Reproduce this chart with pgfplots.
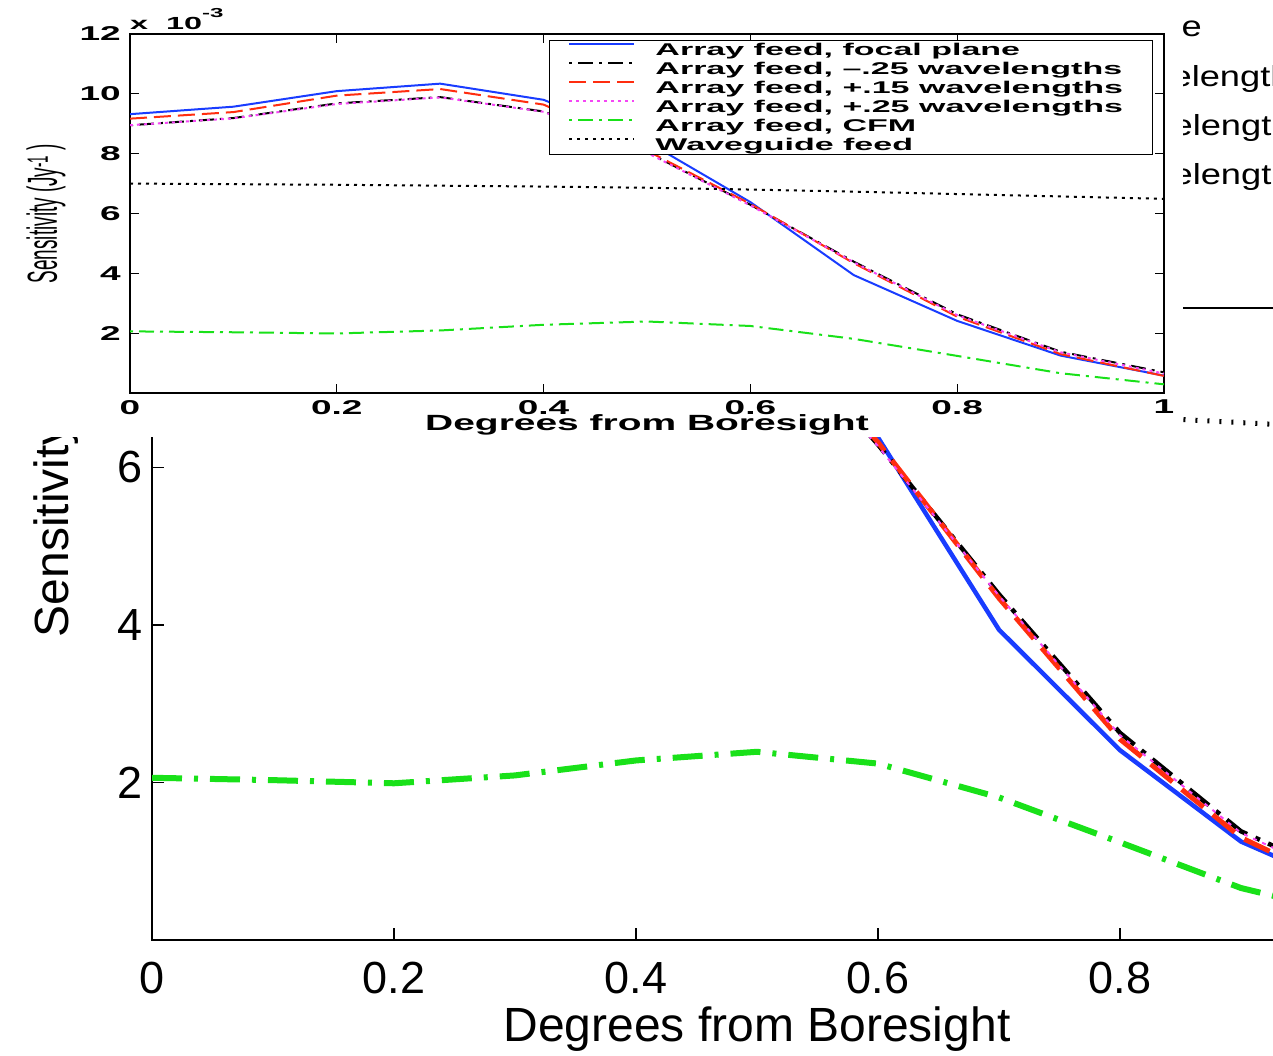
\documentclass[border=0pt]{standalone}
\usepackage{fontspec}
\usepackage{pgfplots}
\usepackage{pgfplotstable}
\pgfplotsset{compat=1.18}
\setmainfont{Liberation Sans}
% the small figure was stretched sideways, so its text is wide
\newfontfamily\tfont{Liberation Sans}[FakeStretch=1.85]
\newfontfamily\tlabfont{Liberation Sans}[FakeStretch=1.77]
\newfontfamily\lfont{Liberation Sans}[FakeStretch=2.0]
\newfontfamily\yfont{Liberation Sans}[FakeStretch=0.45]
\newfontfamily\bfontleg{Liberation Sans}[FakeStretch=1.25]
\newcommand\topticks{\fontsize{20}{20}\selectfont\tfont\bfseries}
\newcommand\toplab{\fontsize{22}{22}\selectfont\tlabfont\bfseries}
\newcommand\topleg{\fontsize{17}{17}\selectfont\lfont\bfseries}
\newcommand\topylab{\fontsize{42}{42}\selectfont\yfont}
\newcommand\expfont{\fontsize{17.5}{17.5}\selectfont\tfont\bfseries}
\newcommand\expsup{\fontsize{13}{13}\selectfont\tfont\bfseries}
\newcommand\botticks{\fontsize{45}{45}\selectfont}
\newcommand\botlab{\fontsize{48}{48}\selectfont}
\newcommand\botleg{\fontsize{29}{29}\selectfont\bfontleg}

\definecolor{mblue}{RGB}{25,60,255}
\definecolor{mred}{RGB}{255,45,15}
\definecolor{mmag}{RGB}{245,70,245}
\definecolor{mgreen}{RGB}{25,225,25}

% sensitivity in units of 1e-3 / Jy
\pgfplotstableread{
x    blue  black red   mag   green wg
0.0  9.32  8.95  9.17  8.95  2.06  7.00
0.1  9.57  9.19  9.39  9.18  2.03  6.98
0.2  10.09 9.68  9.94  9.66  1.99  6.96
0.3  10.34 9.89  10.16 9.88  2.09  6.93
0.4  9.80  9.41  9.64  9.40  2.28  6.90
0.5  8.40  8.05  8.10  8.03  2.39  6.86
0.6  6.38  6.29  6.32  6.27  2.24  6.80
0.7  3.94  4.39  4.34  4.37  1.81  6.73
0.8  2.41  2.63  2.55  2.60  1.24  6.65
0.9  1.25  1.38  1.30  1.36  0.66  6.57
1.0  0.58  0.69  0.57  0.65  0.29  6.49
}\sens

\begin{document}
\begin{tikzpicture}
\useasboundingbox (0,0) rectangle (1273pt,1055pt);
\clip (0,0) rectangle (1273pt,1055pt);

% large copy of the figure, behind
\begin{axis}[
  scale only axis, width=1210pt, height=945pt,
  at={(152pt,115pt)}, anchor=south west,
  xmin=0, xmax=1, ymin=0, ymax=12,
  xtick={0,0.2,0.4,0.6,0.8,1}, ytick={2,4,6,8,10,12},
  axis line style={line width=2.5pt},
  every tick/.style={black, line width=1.5pt}, major tick length=12pt,
  /pgf/number format/assume math mode=true,
  tick label style={font=\botticks, inner sep=0pt},
  xticklabel style={anchor=north, yshift=-22pt},
  yticklabel style={anchor=east, xshift=-9pt},
  xlabel={Degrees from Boresight},
  xlabel style={font=\botlab, at={(axis description cs:0.5,-0.1079)}, anchor=base},
  ylabel={Sensitivity (Jy\textsuperscript{-1})},
  ylabel style={font=\botlab, at={(axis description cs:-0.0694,0.5)}, anchor=base},
  legend cell align=left,
  legend image code/.code={\draw[#1] (0pt,12pt) -- (70pt,12pt); \path (-5pt,0pt) (85pt,0pt);},
  legend style={at={(axis description cs:0.4793,0.6677)}, anchor=south west,
    fill=white, draw=black, line width=2.5pt, inner xsep=10pt, inner ysep=10.2pt,
    row sep=0pt, font=\botleg, nodes={inner sep=0pt, text height=35pt, text depth=14.3pt}},
]
\addplot[mblue, line width=4.5pt] table[x=x,y=blue] {\sens};
\addlegendentry{Array feed, focal plane}
\addplot[black, line width=4.5pt, dash pattern=on 5pt off 9pt on 25pt off 9pt] table[x=x,y=black] {\sens};
\addlegendentry{Array feed, –.25 wavelengths}
\addplot[mred, line width=5pt, dash pattern=on 28pt off 12pt] table[x=x,y=red] {\sens};
\addlegendentry{Array feed, +.15 wavelengths}
\addplot[mmag, line width=2pt, dash pattern=on 4pt off 6pt] table[x=x,y=mag] {\sens};
\addlegendentry{Array feed, +.25 wavelengths}
\addplot[mgreen, line width=6pt, dash pattern=on 30pt off 12pt on 4pt off 12pt] table[x=x,y=green] {\sens};
\addlegendentry{Array feed, CFM}
\addplot[black, line width=5pt, dash pattern=on 2pt off 10pt] table[x=x,y=wg] {\sens};
\addlegendentry{Waveguide feed}
\end{axis}

\fill[white] (0,618pt) rectangle (1183pt,1055pt);

% small figure, in front
\begin{axis}[
  scale only axis, width=1034pt, height=359pt,
  at={(130pt,662pt)}, anchor=south west,
  xmin=0, xmax=1, ymin=0, ymax=12,
  clip mode=individual,
  xtick={0,0.2,0.4,0.6,0.8,1}, ytick={2,4,6,8,10,12},
  axis line style={line width=1.5pt},
  every tick/.style={black, line width=1pt}, major tick length=9pt,
  /pgf/number format/assume math mode=true,
  tick label style={font=\topticks, inner sep=0pt},
  xticklabel style={anchor=north, yshift=-7pt},
  yticklabel style={anchor=east, xshift=-9pt},
  xlabel={Degrees from Boresight},
  xlabel style={font=\toplab, at={(axis description cs:0.5,-0.1058)}, anchor=base},
  ylabel={Sensitivity (Jy\textsuperscript{-1} )},
  ylabel style={font=\topylab, at={(axis description cs:-0.0706,0.5)}, anchor=base},
  legend cell align=left,
  legend image code/.code={\draw[#1] (0pt,6pt) -- (65pt,6pt); \path (-3pt,0pt) (85pt,0pt);},
  legend style={at={(axis description cs:0.4052,0.9833)}, anchor=north west,
    fill=white, draw=black, line width=1pt, inner xsep=16pt, inner ysep=0pt,
    row sep=0pt, font=\topleg, nodes={inner sep=0pt, text height=15.5pt, text depth=3.5pt}},
]
\addplot[mblue, line width=2pt] table[x=x,y=blue] {\sens};
\addlegendentry{Array feed, focal plane}
\addplot[black, line width=2pt, dash pattern=on 3pt off 6pt on 15pt off 6pt] table[x=x,y=black] {\sens};
\addlegendentry{Array feed, –.25 wavelengths}
\addplot[mred, line width=2pt, dash pattern=on 17pt off 7pt] table[x=x,y=red] {\sens};
\addlegendentry{Array feed, +.15 wavelengths\hspace*{13pt}}
\addplot[mmag, line width=2pt, dash pattern=on 3pt off 4pt] table[x=x,y=mag] {\sens};
\addlegendentry{Array feed, +.25 wavelengths}
\addplot[mgreen, line width=2pt, dash pattern=on 3pt off 6pt on 15pt off 6pt] table[x=x,y=green] {\sens};
\addlegendentry{Array feed, CFM}
\addplot[black, line width=2pt, dash pattern=on 3pt off 5pt] table[x=x,y=wg] {\sens};
\addlegendentry{Waveguide feed}
\node[anchor=base west, font=\expfont, inner sep=0pt, yshift=4pt] at (rel axis cs:0,1)
  {x\hspace{18pt}10\raisebox{12pt}{\expsup -3}};
\end{axis}
\end{tikzpicture}
\end{document}
